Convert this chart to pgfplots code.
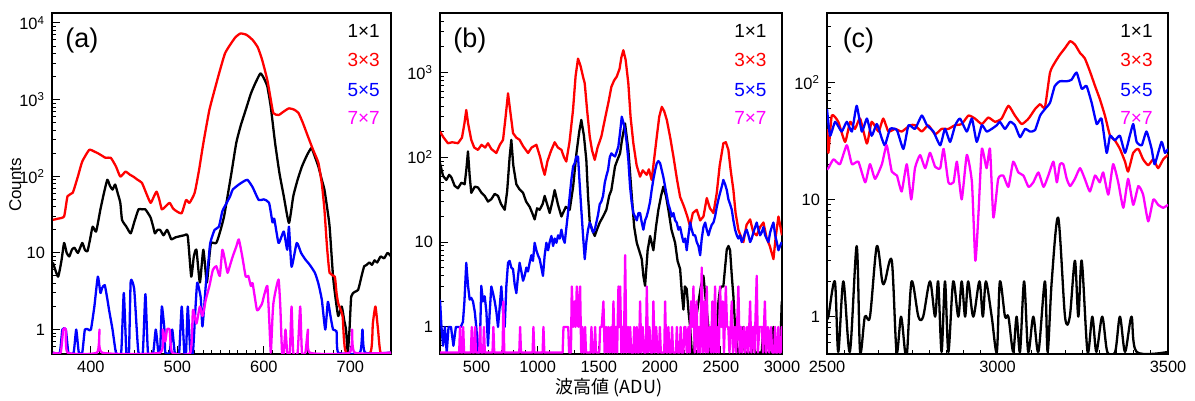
\documentclass[border=0pt]{standalone}
\usepackage{fontspec}
\setmainfont{Liberation Sans}
\newfontfamily\cjk{Noto Sans CJK JP}
\usepackage{pgfplots}
\pgfplotsset{compat=1.18}
\definecolor{cR}{RGB}{255,0,0}
\definecolor{cB}{RGB}{0,0,255}
\definecolor{cM}{RGB}{255,0,255}

\tikzset{
  lbltag/.style={anchor=north west, inner sep=0pt, font=\fontsize{13.5}{14}\selectfont},
  lblkey/.style={anchor=east, inner sep=0pt, font=\fontsize{9.5}{10}\selectfont},
}
\pgfplotsset{
  every axis/.append style={scale only axis, height=170.5pt,
    axis line style={line width=0.9pt}, tick align=inside, tick pos=left,
    major tick length=4pt, minor tick length=2pt,
    every tick/.style={black, line width=0.5pt},
    ticklabel style={font=\fontsize{8.2}{9}\selectfont},
    scaled x ticks=false,
    minor ytick={0.6,0.7,0.8,0.9,2,3,...,9,20,30,...,90,200,300,...,900,2000,3000,...,9000}},
  every axis plot/.append style={line width=1.15pt, line join=round},
}

\begin{document}
\begin{tikzpicture}
\path[use as bounding box] (0,0) rectangle (597.5pt,200.5pt);

% (a)
\begin{axis}[ymode=log, ymin=0.48, at={(26pt,23.5pt)}, anchor=south west, width=169.5pt,
  xmin=355, xmax=747, ymax=13500, xtick={400,500,600,700}, minor x tick num=9,
  /pgf/number format/assume math mode=true, /pgf/number format/1000 sep={},
  ytick={1,10,100,1000,10000},
  yticklabels={1,10,10\textsuperscript{2},10\textsuperscript{3},10\textsuperscript{4}}]
\addplot[black, smooth, tension=0.3] coordinates {
(356,7.5)(362,4.9)(366,8)(369,13.5)(372,10)(375,9)(378,11)(381,11.7)(385,10)(390,13.5)
(393,11)(396,10.5)(399,15)(402,22)(406,19)(411,37)(415,60)(419,90)(422,75)(425,67)
(428,78)(431,60)(434,45)(436,27)(441,22)(446,18)(450,25)(455,37)(459,37)(463,37)
(466,33)(469,29)(472,22)(474,18)(477,20)(480,20)(484,17)(488,20)(491,17)(493,15)
(498,16)(503,16.5)(508,17)(512,16.5)(516,4.9)(519,9)(522,11)(526,4.1)(530,11)(534,4.1)
(537,9)(539,13.5)(545,13.5)(550,20)(554,30)(558,55)(563,120)(568,270)(573,450)(579,735)
(585,1200)(590,1630)(596,2200)(600,1900)(604,1480)(608,800)(613,270)(618,110)(623,55)
(629,24.6)(634,55)(639,90)(644,134)(650,190)(655,233)(659,180)(663,134)(667,90)(670,67)
(673,40)(676,22)(680,4.9)(683,2.5)(686,1.5)(690,2)(693,1.3)(695,1)(697,0.5)(699,1)
(701,2.7)(705,3.1)(709,3.3)(713,5)(716,6.7)(719,7)(722,7.5)(725,7)(728,8)(731,7.5)
(735,9)(739,8.5)(743,10)(747,9)};
\addplot[cR, smooth, tension=0.3] coordinates {
(356,27)(362,28)(369,30)(373,55)(379,61)(385,100)(390,156)(398,221)(404,210)(408,200)
(413,185)(417,174)(423,174)(429,134)(434,99)(440,115)(445,105)(449,99)(454,90)(459,82)
(464,60)(469,45)(473,55)(476,63)(479,50)(482,37)(486,40)(491,45)(495,38)(499,35)
(505,33)(510,49)(514,45)(520,61)(525,120)(530,270)(537,735)(545,1620)(550,2600)(555,4000)
(560,5000)(567,6500)(573,7300)(580,7000)(587,6000)(593,4800)(598,3300)(604,1800)
(608,1000)(611,665)(617,630)(623,700)(629,770)(635,740)(640,670)(645,500)(651,330)
(657,220)(663,150)(667,80)(670,37)(673,12)(676,5.5)(682,4.9)(684,3)(686,2.2)(691,1.5)
(695,0.5)(723,0.5)(726,1.2)(729,2)(732,1)(735,0.5)(747,0.5)};
\addplot[cB, smooth, tension=0.3] coordinates {
(356,0.5)(364,0.5)(367,1)(371,1)(374,0.5)(380,0.5)(383,1)(386,0.5)(390,0.5)(393,1)
(397,1)(400,1)(404,2)(408,4.9)(411,3.0)(413,3.5)(416,3.8)(419,2.5)(421,1.8)(425,1)
(429,0.5)(435,0.5)(438,3)(441,0.5)(444,0.5)(446,4.25)(450,3.4)(453,1)(455,0.5)(460,0.5)
(463,2.9)(466,0.5)(472,0.5)(475,1)(478,0.5)(480,0.5)(482,2)(485,1)(486,0.5)(491,0.5)
(494,1)(497,0.5)(502,0.5)(505,2)(508,0.5)(510,0.5)(512,2)(515,0.5)(518,0.5)(521,2)
(523,4.1)(527,2.6)(529,1.1)(533,4)(536,8)(538,13.5)(543,20)(548,22)(552,35)(557,45)
(561,55)(564,67)(571,78)(576,85)(581,90)(587,72)(594,49)(600,50)(606,45)(610,25)
(612,28)(617,13.5)(623,19)(627,11)(629,22)(632,6.6)(638,13.5)(643,10)(648,8.2)(653,7)
(659,5.5)(663,4)(667,2.45)(671,1)(674,2.3)(677,1.5)(680,1)(684,0.95)(686,0.5)(711,0.5)
(714,1)(717,0.5)(747,0.5)};
\addplot[cM, smooth, tension=0.3] coordinates {
(356,0.5)(365,0.5)(368,1)(371,1)(373,0.5)(407,0.5)(410,1)(413,0.5)(480,0.5)(483,1)
(486,0.7)(488,1)(491,1)(494,0.5)(515,0.5)(518,1.8)(522,1.2)(526,2)(529,1.5)(533,2.5)
(537,3.7)(541,6)(545,6.7)(549,5)(552,11)(555,8)(558,5.5)(561,7)(564,9)(568,12)(571,15)
(575,9)(579,4.9)(582,5)(585,3.7)(587,4)(592,1.8)(596,2)(598,2.2)(601,3)(604,3.7)
(606,1.5)(608,0.5)(610,1.5)(611,2.2)(613,3)(617,4.5)(619,2)(621,0.5)(623,0.5)(625,1)
(627,0.5)(630,0.5)(632,2)(634,0.5)(639,0.5)(642,2)(644,0.5)(648,0.5)(651,1)(653,0.5)
(699,0.5)(702,1)(705,0.5)(747,0.5)};
\node[lbltag] at (rel axis cs:0.038,0.956) {(a)};
\node[lblkey, text=black] at (rel axis cs:0.968,0.946) {1×1};
\node[lblkey, text=cR] at (rel axis cs:0.968,0.862) {3×3};
\node[lblkey, text=cB] at (rel axis cs:0.968,0.774) {5×5};
\node[lblkey, text=cM] at (rel axis cs:0.968,0.691) {7×7};
\end{axis}

% (b)
\begin{axis}[ymode=log, ymin=0.48, at={(220pt,23.5pt)}, anchor=south west, width=171pt,
  xmin=200, xmax=3000, ymax=5000, xtick={500,1000,...,3000}, minor x tick num=4,
  /pgf/number format/assume math mode=true, /pgf/number format/1000 sep={},
  ytick={1,10,100,1000},
  yticklabels={1,10,10\textsuperscript{2},10\textsuperscript{3}}]
\addplot[black] coordinates {
(200,85)(225,60)(252,54)(275,62)(293,58)(320,46)(347,43)(375,50)(402,48)(415,70)
(429,117)(443,60)(456,38)(485,45)(511,44)(540,38)(566,35)(593,30)(620,32)(648,37)
(675,35)(700,28)(730,24)(750,40)(770,100)(784,160)(800,80)(825,48)(850,42)(880,38)
(905,30)(934,26)(955,22)(975,18.5)(995,25)(1016,24)(1040,28)(1057,35)(1080,27)(1098,22)
(1120,30)(1139,41)(1165,28)(1194,20)(1230,26)(1262,24)(1290,45)(1317,111)(1340,200)
(1357,275)(1378,180)(1398,93)(1412,35)(1426,17)(1445,14)(1467,11.8)(1485,14)(1508,17)
(1535,20)(1562,24)(1585,35)(1603,41)(1633,78)(1655,95)(1674,111)(1690,160)(1715,250)
(1742,122)(1770,35)(1790,15)(1811,9.8)(1830,8)(1852,6.3)(1865,4)(1879,3.05)(1900,8)
(1920,11.8)(1947,8)(1968,15)(1988,24)(2010,35)(2029,45)(2050,35)(2070,24)(2095,14)
(2125,9.8)(2145,6)(2166,4.8)(2180,2.5)(2193,1.6)(2205,3)(2220,2.8)(2235,1.5)(2248,1)
(2262,0.5)(2280,0.5)(2295,1.2)(2316,1.96)(2336,3)(2357,4)(2370,2.5)(2384,1.6)(2397,1)
(2411,0.5)(2440,0.5)(2452,1)(2466,1)(2480,2)(2493,2.8)(2506,3)(2520,3)(2534,5)
(2548,8.2)(2562,9)(2575,8)(2589,4)(2602,2.3)(2616,1)(2630,0.6)(2644,0.5)(2670,0.5)
(2684,1)(2697,0.5)(2752,0.5)(2766,1)(2780,0.5)(2834,0.5)(2848,1)(2862,0.5)(2916,0.5)
(2930,1)(2944,0.5)(2985,0.5)(2998,2)};
\addplot[cR] coordinates {
(200,200)(230,170)(265,146)(300,150)(347,146)(380,170)(400,250)(415,360)(430,250)
(456,160)(480,130)(511,122)(540,140)(570,130)(593,146)(620,125)(661,112)(690,140)
(716,160)(735,280)(757,565)(775,350)(798,192)(825,170)(852,160)(880,135)(921,112)
(950,130)(989,140)(1020,100)(1040,75)(1057,62)(1080,90)(1110,120)(1139,150)(1165,130)
(1194,122)(1215,100)(1234,89)(1260,150)(1289,360)(1310,900)(1330,1450)(1350,1200)
(1370,900)(1385,740)(1405,350)(1426,175)(1445,120)(1467,93)(1490,130)(1521,175)
(1550,280)(1580,450)(1603,675)(1625,800)(1647,890)(1670,1100)(1685,1500)(1701,1820)
(1720,1400)(1742,740)(1760,300)(1783,146)(1810,80)(1838,59)(1860,70)(1892,62)(1910,72)
(1933,54)(1955,100)(1975,175)(1995,300)(2016,392)(2035,350)(2057,275)(2085,170)
(2111,102)(2140,55)(2166,34)(2190,28)(2207,24)(2225,20)(2247,15.4)(2270,22)(2302,24)
(2330,18)(2357,20)(2384,33)(2410,25)(2439,22)(2466,38)(2490,80)(2520,146)(2540,150)
(2561,122)(2580,70)(2602,41)(2620,22)(2643,14)(2660,12)(2684,10)(2710,16)(2739,18.5)
(2765,13)(2793,12)(2820,15)(2848,17)(2875,11)(2900,9)(2930,6.3)(2950,12)(2971,20)
(3000,12)};
\addplot[cB] coordinates {
(200,2.1)(212,1)(225,0.6)(240,1)(255,0.5)(270,1)(290,1)(310,0.6)(330,1)(347,1)(370,1)
(388,1.15)(400,2)(415,5.7)(430,3)(443,2.1)(456,2.2)(470,2)(485,1.5)(497,1)(512,0.5)
(525,0.5)(538,3.05)(552,2)(566,2.3)(580,1.5)(593,0.6)(607,1.5)(620,3)(634,2.5)(648,2)
(662,1.5)(675,1)(690,1.8)(702,3)(716,1.5)(730,1)(743,3)(757,5.7)(770,6)(784,5)(798,4.8)
(811,3.2)(825,2.5)(839,4)(852,5.7)(866,4.5)(880,3.5)(893,4)(907,5)(920,4.5)(934,5.7)
(948,7)(961,6)(975,9.8)(989,8)(1002,7)(1016,6.3)(1030,5)(1043,4)(1057,7)(1071,9.8)
(1085,8)(1098,10)(1112,11.8)(1126,9)(1139,11)(1153,9.8)(1167,12)(1180,11)(1194,14)
(1208,11)(1221,9.8)(1235,15)(1248,22)(1262,35)(1276,55)(1290,78)(1303,85)(1317,102)
(1330,102)(1343,50)(1357,24)(1371,12)(1385,6.3)(1398,10)(1412,14)(1426,17)(1440,15)
(1453,13)(1467,14)(1480,17)(1494,21)(1508,28)(1521,30)(1535,35)(1549,50)(1562,60)
(1576,71)(1590,100)(1603,111)(1620,105)(1633,102)(1646,115)(1660,133)(1675,200)
(1688,300)(1700,260)(1715,210)(1728,150)(1742,93)(1756,45)(1770,29)(1783,22)(1797,20)
(1811,18)(1825,22)(1838,22)(1852,17)(1865,14)(1879,18)(1892,20)(1906,24)(1920,30)
(1933,41)(1947,55)(1961,70)(1975,85)(1988,90)(2002,85)(2016,70)(2029,58)(2043,45)
(2057,35)(2070,28)(2084,24)(2097,20)(2111,22)(2125,18)(2138,17)(2152,14)(2166,15)
(2180,12)(2193,10)(2207,11)(2220,8)(2234,12)(2248,17)(2261,14)(2275,12)(2289,12)
(2302,10)(2316,9)(2330,7)(2343,11)(2357,15)(2371,17)(2384,14)(2398,12)(2411,14)
(2425,16)(2439,17)(2452,20)(2466,26)(2480,32)(2493,38)(2507,45)(2520,54)(2534,48)
(2548,41)(2561,32)(2575,28)(2589,24)(2602,18)(2616,14)(2630,12)(2643,11)(2657,12)
(2670,10)(2684,11)(2698,13)(2711,14)(2725,12)(2739,10)(2752,11)(2766,13)(2780,15)
(2793,17)(2807,14)(2821,12)(2834,13)(2848,15)(2862,12)(2875,11)(2889,10)(2903,13)
(2916,15)(2930,17)(2944,12)(2957,10)(2971,8)(2984,9)(2998,10)};
\addplot[cM] coordinates {
(200,0.5)(357,0.5)(364,1)(371,0.5)(383,0.5)(390,1)(397,0.5)(453,0.5)(460,1)(467,0.5)
(480,0.5)(487,1)(494,0.5)(521,0.5)(528,1)(535,0.5)(553,0.5)(560,1)(567,0.5)(630,0.5)
(637,1)(644,0.5)(712,0.5)(719,2)(726,0.5)(849,0.5)(856,1)(863,0.5)(958,0.5)(965,1)
(972,0.5)(1040,0.5)(1047,1)(1054,0.5)(1204,0.5)(1211,1)(1230,1)(1250,1)(1257,0.5)
(1272,0.5)(1279,3)(1290,1)(1300,2)(1310,1)(1320,3)(1333,1)(1347,3)(1356,0.5)(1365,1)
(1372,0.5)(1381,0.5)(1388,1)(1395,0.5)(1433,0.5)(1440,1)(1447,0.5)(1463,0.5)(1470,1)
(1477,0.5)(1504,0.5)(1511,1)(1524,1)(1538,2)(1548,0.5)(1560,1)(1570,0.5)(1579,1)
(1590,0.5)(1600,1)(1610,0.5)(1620,2)(1630,0.5)(1640,1)(1650,0.5)(1661,3)(1668,1)
(1675,3)(1685,0.5)(1695,1)(1705,0.5)(1716,7)(1726,0.5)(1740,1)(1748,0.5)(1757,1)
(1765,0.5)(1783,0.5)(1790,1)(1798,0.5)(1804,0.5)(1811,1)(1820,0.5)(1830,0.5)(1838,2)
(1848,0.5)(1860,1)(1870,0.5)(1886,0.5)(1893,3)(1903,0.5)(1915,1)(1925,0.5)(1940,0.5)
(1947,2)(1957,0.5)(1970,1)(1980,0.5)(1993,0.5)(2000,1)(2008,0.5)(2036,0.5)(2043,2)
(2052,0.5)(2063,0.5)(2070,1)(2078,0.5)(2093,0.5)(2100,1)(2108,0.5)(2132,0.5)(2139,1)
(2147,0.5)(2163,0.5)(2170,1)(2178,0.5)(2193,0.5)(2200,1)(2210,1)(2220,0.5)(2227,0.5)
(2234,1)(2244,0.5)(2255,2)(2265,1)(2275,3)(2285,0.5)(2300,2)(2310,0.5)(2320,1)
(2330,0.5)(2343,5)(2353,0.5)(2365,2)(2375,0.5)(2384,3)(2394,0.5)(2410,1)(2420,0.5)
(2430,2)(2440,0.5)(2452,3)(2462,0.5)(2475,1)(2483,0.5)(2493,3)(2503,1)(2515,2)
(2525,0.5)(2540,3)(2550,1)(2560,1)(2570,0.5)(2589,2)(2599,0.5)(2615,1)(2625,0.5)
(2643,3)(2653,0.5)(2665,1)(2675,0.5)(2690,1)(2700,0.5)(2715,1)(2725,0.5)(2739,2)
(2749,0.5)(2765,1)(2775,0.5)(2793,4)(2803,0.5)(2815,1)(2825,1)(2835,1)(2845,0.5)
(2860,2)(2870,0.5)(2885,1)(2895,0.5)(2910,1)(2920,0.5)(2936,0.5)(2943,1)(2950,0.5)
(2963,0.5)(2970,1)(2977,0.5)(2990,0.5)(2998,1)(3000,1)};
\node[lbltag] at (rel axis cs:0.038,0.956) {(b)};
\node[lblkey, text=black] at (rel axis cs:0.956,0.946) {1×1};
\node[lblkey, text=cR] at (rel axis cs:0.956,0.862) {3×3};
\node[lblkey, text=cB] at (rel axis cs:0.956,0.774) {5×5};
\node[lblkey, text=cM] at (rel axis cs:0.956,0.691) {7×7};
\end{axis}

% (c)
\begin{axis}[ymode=log, ymin=0.48, at={(413.5pt,23.5pt)}, anchor=south west, width=170.5pt,
  xmin=2500, xmax=3500, ymax=390, xtick={2500,3000,3500}, minor x tick num=9,
  /pgf/number format/assume math mode=true, /pgf/number format/1000 sep={},
  ytick={1,10,100}, yticklabels={1,10,10\textsuperscript{2}}]
\addplot[black, smooth, tension=0.5] coordinates {
(2500,1)(2504,1)(2523,2)(2533,0.5)(2548,2)(2567,0.5)(2587,4)(2597,0.5)(2611,1)(2626,1)
(2646,4)(2662,2)(2670,2)(2690,3)(2704,0.5)(2717,1)(2729,0.5)(2735,0.5)(2748,2)(2768,1)
(2782,1)(2802,2)(2817,1)(2826,2)(2836,0.5)(2846,2)(2856,0.5)(2870,2)(2885,1)(2895,2)
(2905,1)(2914,2)(2929,1)(2947,2)(2957,1)(2966,2)(2983,1)(2998,0.5)(3007,2)(3022,1)
(3032,1)(3046,0.5)(3056,1)(3066,0.5)(3078,2)(3090,0.5)(3105,1)(3120,0.5)(3139,2)
(3147,0.5)(3159,2)(3178,7)(3198,1)(3212,1)(3227,3)(3237,1)(3247,3)(3264,0.5)(3278,1)
(3290,0.5)(3307,1)(3322,0.5)(3345,0.5)(3359,1)(3374,0.5)(3393,1)(3408,0.5)(3500,0.5)};
\addplot[cR, smooth, tension=0.3] coordinates {
(2500,40)(2504,25)(2514,52)(2533,46)(2553,31)(2568,46)(2582,40)(2597,49)(2617,30)
(2631,46)(2651,38)(2665,49)(2680,38)(2700,40)(2719,38)(2744,43)(2758,43)(2778,38)
(2797,43)(2817,36)(2836,40)(2856,40)(2875,43)(2895,44)(2915,52)(2934,49)(2954,44)
(2973,50)(2993,46)(3012,49)(3032,63)(3051,52)(3071,44)(3091,49)(3110,59)(3125,65)
(3139,61)(3154,121)(3168,147)(3183,172)(3198,196)(3213,224)(3227,210)(3242,178)
(3256,160)(3271,124)(3286,93)(3300,72)(3315,52)(3330,35)(3344,32)(3359,27)(3374,21)
(3383,17.3)(3398,25)(3413,27)(3427,22)(3442,19.6)(3457,22)(3471,18.5)(3486,22)
(3500,24)};
\addplot[cB, smooth, tension=0.3] coordinates {
(2500,59)(2509,35)(2524,46)(2543,38)(2558,46)(2573,38)(2587,63)(2602,38)(2617,49)
(2631,35)(2646,44)(2661,33)(2670,29)(2685,40)(2705,39)(2724,27)(2739,43)(2758,40)
(2778,52)(2793,43)(2812,38)(2832,29)(2846,40)(2861,31)(2876,43)(2890,49)(2910,38)
(2925,49)(2939,31)(2954,43)(2968,38)(2983,40)(2998,43)(3007,46)(3022,40)(3037,46)
(3051,43)(3066,34)(3081,40)(3095,38)(3110,39)(3125,52)(3139,59)(3154,67)(3168,93)
(3183,102)(3203,102)(3217,105)(3232,121)(3247,88)(3261,93)(3276,67)(3291,44)(3305,49)
(3320,25)(3330,35)(3344,32)(3359,35)(3374,25)(3388,35)(3398,44)(3408,31)(3423,29)
(3437,38)(3452,27)(3461,20)(3481,31)(3491,25)(3500,27)};
\addplot[cM, smooth, tension=0.3] coordinates {
(2500,18)(2504,18.5)(2519,22)(2538,20)(2558,29)(2573,20)(2592,21)(2612,14)(2626,20)
(2641,15)(2661,20)(2675,29)(2690,17.3)(2705,16)(2719,11.7)(2734,20)(2747,10)(2758,18.5)
(2773,23.9)(2788,18.5)(2802,25)(2817,19)(2832,18.5)(2842,27)(2856,14)(2871,14)(2881,21)
(2895,10)(2910,24)(2925,14)(2935,3)(2944,7.4)(2954,27)(2968,18.5)(2978,27)(2988,7)
(3002,15)(3017,16)(3032,12.8)(3046,21)(3061,17)(3076,16)(3091,12.8)(3105,14)(3120,17)
(3135,12.8)(3149,16)(3164,21)(3174,14)(3183,20)(3193,20)(3203,15)(3213,13)(3227,15)
(3242,18.5)(3256,15)(3271,11.7)(3286,16)(3300,14)(3310,17)(3325,11)(3339,20)(3354,14)
(3369,8.5)(3383,15)(3398,9)(3413,13)(3427,11)(3442,6.5)(3457,10)(3471,9)(3486,8.5)
(3500,9)};
\node[lbltag] at (rel axis cs:0.045,0.956) {(c)};
\node[lblkey, text=black] at (rel axis cs:0.956,0.946) {1×1};
\node[lblkey, text=cR] at (rel axis cs:0.956,0.862) {3×3};
\node[lblkey, text=cB] at (rel axis cs:0.956,0.774) {5×5};
\node[lblkey, text=cM] at (rel axis cs:0.956,0.691) {7×7};
\end{axis}

\node[rotate=90, font=\fontsize{8.5}{9}\selectfont] at (7.6pt,108pt) {Counts};
\node[font=\cjk\fontsize{9}{10}\selectfont] at (304.5pt,6.5pt) {波高値 (ADU)};
\end{tikzpicture}
\end{document}
